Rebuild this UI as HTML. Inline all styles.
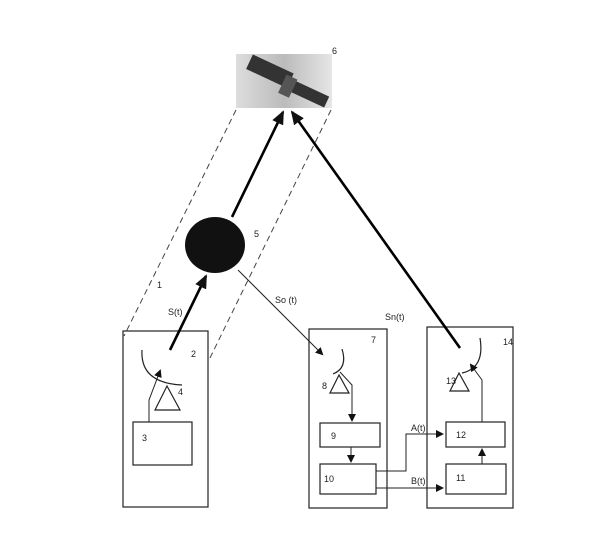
<!DOCTYPE html>
<html><head><style>body{margin:0;background:#fff}svg{display:block}text{font-family:"Liberation Sans",sans-serif;font-size:9px;fill:#222}</style></head><body>
<svg width="600" height="542" viewBox="0 0 600 542">
<defs>
<marker id="a" markerWidth="8" markerHeight="8" refX="6" refY="4" orient="auto" markerUnits="userSpaceOnUse"><path d="M0,0 L8,4 L0,8z" fill="#111"/></marker>
<marker id="b" markerWidth="14" markerHeight="12" refX="12" refY="6" orient="auto" markerUnits="userSpaceOnUse"><path d="M0,0 L14,6 L0,12z" fill="#111"/></marker>
<linearGradient id="g" x1="0" x2="1"><stop offset="0" stop-color="#ddd"/><stop offset="0.5" stop-color="#bbb"/><stop offset="1" stop-color="#e6e6e6"/></linearGradient>
</defs>
<rect x="236" y="54" width="96" height="54" fill="url(#g)"/>
<g transform="rotate(25 284 80)"><rect x="245" y="70" width="45" height="16" fill="#333"/><rect x="292" y="76" width="40" height="12" fill="#333"/><rect x="284" y="74" width="12" height="20" fill="#555"/></g>
<text x="332" y="54">6</text>
<g stroke="#444" stroke-dasharray="6,4" fill="none" stroke-width="1">
<line x1="236" y1="110" x2="124" y2="336"/><line x1="331" y1="110" x2="209" y2="360"/></g>
<g fill="none" stroke="#222" stroke-width="1.2">
<rect x="123" y="331" width="85" height="176"/><rect x="133" y="422" width="59" height="43"/>
<rect x="309" y="329" width="78" height="179"/><rect x="320" y="423" width="60" height="24"/><rect x="320" y="464" width="56" height="30"/>
<rect x="427" y="327" width="86" height="181"/><rect x="446" y="422" width="59" height="25"/><rect x="446" y="464" width="60" height="30"/>
<path d="M142,350 Q140,383 182,385"/><path d="M155,410 L180,410 L167,386z"/>
<path d="M342,349 Q348,368 333,374"/><path d="M330,393 L349,393 L339,375z"/>
<path d="M480,338 Q485,368 462,373"/><path d="M450,391 L469,391 L459,373z"/>
</g>
<g stroke="#222" stroke-width="1" fill="none">
<path d="M149,422 V400 L160,371" marker-end="url(#a)"/>
<path d="M340,372 L352,385 V420" marker-end="url(#a)"/>
<line x1="351" y1="447" x2="351" y2="461" marker-end="url(#a)"/>
<path d="M376,471 H406 V434 H442" marker-end="url(#a)"/>
<path d="M376,488 H442" marker-end="url(#a)"/>
<line x1="482" y1="464" x2="482" y2="450" marker-end="url(#a)"/>
<path d="M482,422 V380 L471,365" marker-end="url(#a)"/>
<line x1="238" y1="270" x2="322" y2="354" marker-end="url(#a)"/>
</g>
<ellipse cx="215" cy="245" rx="30" ry="28" fill="#111"/>
<g stroke="#000" stroke-width="2.6" fill="none">
<line x1="170" y1="350" x2="206" y2="276" marker-end="url(#b)"/>
<line x1="232" y1="217" x2="283" y2="112" marker-end="url(#b)"/>
<line x1="460" y1="348" x2="292" y2="112" marker-end="url(#b)"/>
</g>
<text x="254" y="237">5</text><text x="157" y="288">1</text><text x="168" y="315">S(t)</text>
<text x="191" y="357">2</text><text x="178" y="395">4</text><text x="142" y="441">3</text>
<text x="275" y="303">So (t)</text><text x="371" y="343">7</text><text x="322" y="389">8</text>
<text x="331" y="439">9</text><text x="324" y="482">10</text>
<text x="385" y="320">Sn(t)</text><text x="503" y="345">14</text><text x="446" y="384">13</text>
<text x="456" y="438">12</text><text x="456" y="481">11</text>
<text x="411" y="431">A(t)</text><text x="411" y="484">B(t)</text>
</svg></body></html>
